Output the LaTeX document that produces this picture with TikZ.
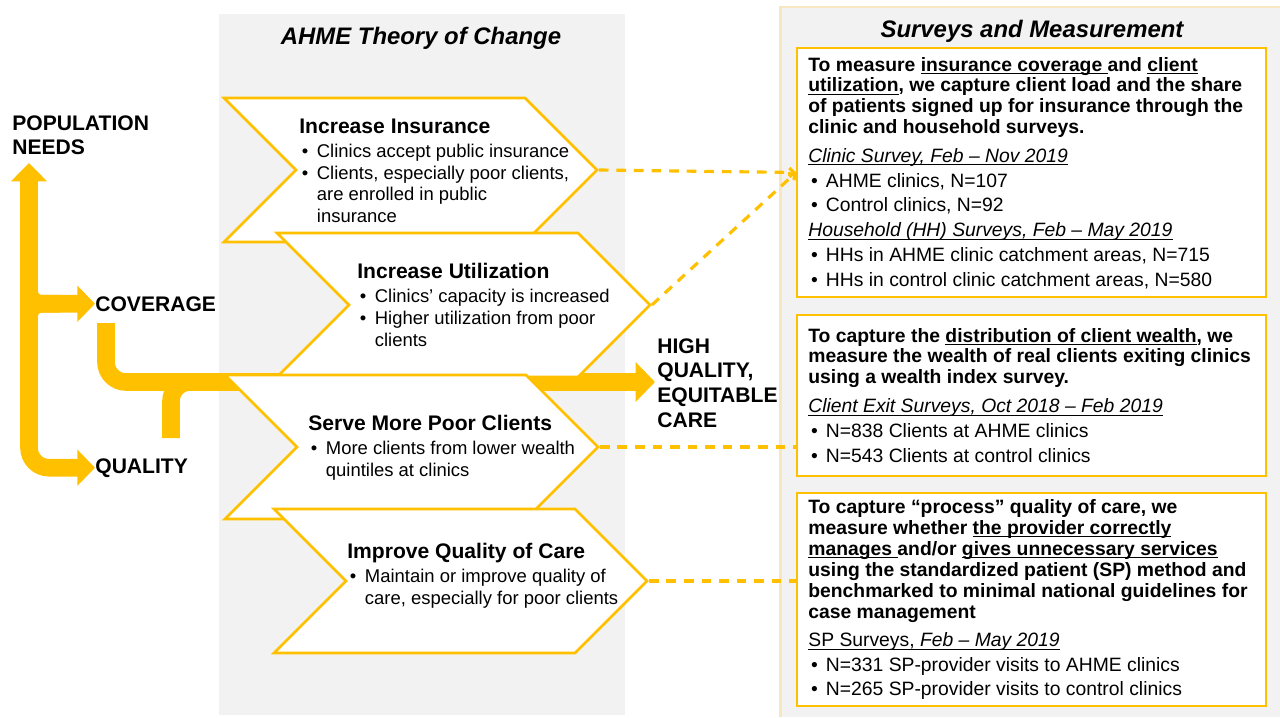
\documentclass[tikz,border=0pt]{standalone}
\usepackage{fontspec}
\setmainfont{Liberation Sans}
\usetikzlibrary{shapes.symbols,arrows.meta}
\definecolor{acc}{HTML}{FFC000}
\definecolor{panel}{HTML}{F2F2F2}
\definecolor{pale}{HTML}{F8E6C0}
\newcommand{\bul}{\makebox[10pt][l]{\hspace{1.5pt}\textbullet}}
\newcommand{\ind}{\hspace*{10pt}}
\newcommand{\ctitle}[1]{{\fontsize{12}{14}\selectfont\bfseries #1}}
\newcommand{\uln}[1]{\leavevmode\setbox0\hbox{#1}\rlap{\rule[-1.7pt]{\wd0}{0.55pt}}\box0}
\tikzset{
	chev/.style={signal, signal from=west, signal to=east, signal pointer angle=90, draw=acc, fill=white, line width=1.5pt, minimum width=7.46cm, minimum height=2.88cm, inner sep=0},
	mbox/.style={draw=acc, fill=white, line width=1.2pt, minimum width=9.38cm, inner sep=0},
	fat/.style={draw=acc, line width=10pt},
	dashline/.style={draw=acc, line width=1.8pt, dash pattern=on 5.5pt off 4.5pt},
	txt/.style={inner sep=0, anchor=base west},
	hd/.style={inner sep=0, anchor=base, font=\fontsize{13.6}{16}\selectfont\bfseries\itshape},
	lbl/.style={txt, font=\fontsize{12}{14.2}\selectfont\bfseries},
	ctext/.style={txt, font=\fontsize{10.5}{12.5}\selectfont},
	mtext/.style={txt, font=\fontsize{11}{11.8}\selectfont}
}

\begin{document}
\begin{tikzpicture}[x=0.02cm, y=-0.02cm]
			\useasboundingbox (0,0) rectangle (1280,717);
			\fill[panel] (219,14) rectangle (625,715);
			\fill[panel] (780,7) rectangle (1280,717);
			\draw[pale, line width=1.7pt] (780,717) -- (780,7) -- (1280,7);

			\draw (421,44) 		node[hd] 	(toc) 		{AHME Theory of Change};
			\draw (1032,37) 	node[hd] 	(sm) 		{Surveys and Measurement};

			\draw (12,130) 		node[lbl] 	(needs) 	{\parbox[t]{3cm}{POPULATION\\NEEDS}};
			\draw (95,311) 		node[lbl] 	(cov) 		{COVERAGE};
			\draw (95,473) 		node[lbl] 	(qual) 		{QUALITY};
			\draw (657,353) 	node[lbl] 	(high) 		{\parbox[t]{3cm}{HIGH\\QUALITY,\\EQUITABLE\\CARE}};

			\coordinate (needs_in) 	at (29,163);
			\coordinate (cov_out) 	at (106,323);
			\coordinate (qual_out) 	at (171,438);
			\coordinate (care_in) 	at (655,382);

			\draw[fat, {Triangle[width=20pt,length=10.5pt]}-{Triangle[width=20pt,length=10pt]}, rounded corners=0.4cm] (needs_in) |- (qual.west);
			\draw[fat, -{Triangle[width=20pt,length=10pt]}, rounded corners=0.25cm] (29,250) |- (cov.west);
			\draw[fat, rounded corners=0.25cm] (29,350) |- ([xshift=-0.7cm]cov.west);
			\draw[fat, rounded corners=0.38cm] (qual_out) |- (260,382);
			\draw[fat, -{Triangle[width=22pt,length=11pt]}, rounded corners=0.4cm] (cov_out) |- (care_in);

			\draw (410.5,170) 	node[chev] 	(ins) 		{};
			\draw (299,133) 	node[ctext] (ins_t) 	{\parbox[t]{6cm}{\ctitle{Increase Insurance}\\[1.2pt]
				\bul Clinics accept public insurance\\
				\bul Clients, especially poor clients,\\
				\ind are enrolled in public\\
				\ind insurance}};
			\draw (463.5,305) 	node[chev] 	(util) 		{};
			\draw (357,278) 	node[ctext] (util_t) 	{\parbox[t]{6cm}{\ctitle{Increase Utilization}\\[1.2pt]
				\bul Clinics’ capacity is increased\\
				\bul Higher utilization from poor\\
				\ind clients}};
			\draw (411.5,447) 	node[chev] 	(poor) 		{};
			\draw (308,430) 	node[ctext] (poor_t) 	{\parbox[t]{6cm}{\ctitle{Serve More Poor Clients}\\[1.2pt]
				\bul More clients from lower wealth\\
				\ind quintiles at clinics}};
			\draw (460.5,581) 	node[chev] 	(care) 		{};
			\draw (347,558) 	node[ctext] (care_t) 	{\parbox[t]{6cm}{\ctitle{Improve Quality of Care}\\[1.2pt]
				\bul Maintain or improve quality of\\
				\ind care, especially for poor clients}};

			\draw (1031.5,172.5) 	node[mbox, minimum height=4.98cm] 	(mb_ins) 	{};
			\draw (1031.5,395.5) 	node[mbox, minimum height=3.22cm] 	(mb_poor) 	{};
			\draw (1031.5,599.5) 	node[mbox, minimum height=4.26cm] 	(mb_care) 	{};

			\draw (808,71) 		node[mtext] (mb_ins_t) 	{\parbox[t]{9cm}{\textbf{To measure \uln{insurance coverage\ }and \uln{client}}\\
				\textbf{\uln{utilization}, we capture client load and the share}\\
				\textbf{of patients signed up for insurance through the}\\
				\textbf{clinic and household surveys.}\\[4.8pt]
				{\itshape\uln{Clinic Survey, Feb – Nov 2019}}\\[2.3pt]
				\bul AHME clinics, N=107\\[2.3pt]
				\bul Control clinics, N=92\\[2.3pt]
				{\itshape\uln{Household (HH) Surveys, Feb – May 2019}}\\[2.3pt]
				\bul HHs in AHME clinic catchment areas, N=715\\[2.3pt]
				\bul HHs in control clinic catchment areas, N=580}};
			\draw (808,342) 	node[mtext] (mb_poor_t) {\parbox[t]{9cm}{\textbf{To capture the \uln{distribution of client wealth}, we}\\
				\textbf{measure the wealth of real clients exiting clinics}\\
				\textbf{using a wealth index survey.}\\[5pt]
				{\itshape\uln{Client Exit Surveys, Oct 2018 – Feb 2019}}\\[2pt]
				\bul N=838 Clients at AHME clinics\\[2.6pt]
				\bul N=543 Clients at control clinics}};
			\draw (808,513) 	node[mtext, font=\fontsize{11}{12}\selectfont] (mb_care_t) {\parbox[t]{9cm}{\textbf{To capture “process” quality of care, we}\\
				\textbf{measure whether \uln{the provider correctly}}\\
				\textbf{\uln{manages\ }and/or \uln{gives unnecessary services}}\\
				\textbf{using the standardized patient (SP) method and}\\
				\textbf{benchmarked to minimal national guidelines for}\\
				\textbf{case management}\\[4pt]
				\uln{SP Surveys, \itshape Feb – May 2019}\\[2pt]
				\bul N=331 SP-provider visits to AHME clinics\\[2pt]
				\bul N=265 SP-provider visits to control clinics}};

			\draw[dashline, -{Straight Barb[length=2.5pt,width=5pt]}] (ins.east) -- (mb_ins.west);
			\draw[dashline, -{Straight Barb[length=2.5pt,width=5pt]}] (util.east) -- (mb_ins.west);
			\draw[dashline] (poor.east) -- (poor.east -| mb_poor.west);
			\draw[dashline] (care.east) -- (care.east -| mb_care.west);
		\end{tikzpicture}
\end{document}
